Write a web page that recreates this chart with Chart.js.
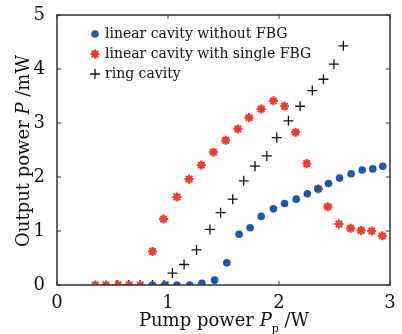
<!DOCTYPE html>
<html>
<head>
<meta charset="utf-8">
<script src="https://cdn.jsdelivr.net/npm/chart.js@4.4.1/dist/chart.umd.min.js"></script>
<style>
  html, body { margin: 0; padding: 0; background: #fff; }
  canvas { display: block; }
</style>
</head>
<body>
<canvas id="grafica" width="402" height="334"></canvas>
<script>
// datos
const xSinFBG = [0.86, 0.97, 1.08, 1.195, 1.305, 1.42, 1.53, 1.64, 1.74, 1.84, 1.95, 2.05, 2.155, 2.255, 2.35, 2.446, 2.546, 2.65, 2.75, 2.845, 2.935];
const ySinFBG = [0, 0, 0, 0, 0.03, 0.09, 0.41, 0.94, 1.06, 1.27, 1.41, 1.51, 1.59, 1.69, 1.78, 1.88, 1.98, 2.06, 2.13, 2.15, 2.2];

const xConFBG = [0.345, 0.44, 0.55, 0.65, 0.75, 0.86, 0.96, 1.08, 1.19, 1.3, 1.41, 1.52, 1.63, 1.73, 1.84, 1.95, 2.05, 2.15, 2.25, 2.356, 2.44, 2.54, 2.645, 2.74, 2.835, 2.93];
const yConFBG = [0, 0, 0, 0, 0, 0.62, 1.22, 1.63, 1.96, 2.22, 2.46, 2.68, 2.89, 3.1, 3.26, 3.41, 3.31, 2.83, 2.25, 1.78, 1.45, 1.13, 1.05, 1.01, 1.0, 0.91];

const xAnillo = [0.54, 0.645, 0.75, 0.86, 0.965, 1.04, 1.145, 1.257, 1.378, 1.474, 1.583, 1.682, 1.784, 1.89, 1.98, 2.085, 2.19, 2.3, 2.4, 2.495, 2.58];
const yAnillo = [0, 0, 0, 0, 0, 0.22, 0.38, 0.65, 1.03, 1.34, 1.59, 1.93, 2.2, 2.39, 2.73, 3.04, 3.31, 3.6, 3.81, 4.09, 4.43];

const xTicks = [0, 1, 2, 3];
const yTicks = [0, 1, 2, 3, 4, 5];
const etiquetas = ["linear cavity without FBG", "linear cavity with single FBG", "ring cavity"];

const AZUL = "#1f55b0";
const ROJO = "#f03a2e";
const NEGRO = "#111";
const FUENTE = "'DejaVu Serif', 'Liberation Serif', serif";

function pares(xs, ys) {
    return xs.map((x, i) => ({ x: x, y: ys[i] }));
}

// dibuja texto con partes en distinta fuente
function textoMixto(ctx, partes, x, y) {
    partes.forEach(p => {
        ctx.font = p[1];
        ctx.fillText(p[0], x, y + (p[2] || 0));
        x += ctx.measureText(p[0]).width;
    });
}

function anchoMixto(ctx, partes) {
    let w = 0;
    partes.forEach(p => { ctx.font = p[1]; w += ctx.measureText(p[0]).width; });
    return w;
}

// marco, marcas hacia dentro, leyenda y titulos de ejes
const marcoPlugin = {
    id: "marco",
    afterDraw(chart) {
        const ctx = chart.ctx;
        const a = chart.chartArea;
        const sx = chart.scales.x;
        const sy = chart.scales.y;
        ctx.save();
        ctx.strokeStyle = "#333";
        ctx.lineWidth = 1.5;
        ctx.strokeRect(a.left, a.top, a.right - a.left, a.bottom - a.top);
        ctx.lineWidth = 1;
        xTicks.forEach(v => {
            const px = sx.getPixelForValue(v);
            ctx.beginPath();
            ctx.moveTo(px, a.bottom); ctx.lineTo(px, a.bottom - 4);
            ctx.moveTo(px, a.top); ctx.lineTo(px, a.top + 4);
            ctx.stroke();
        });
        yTicks.forEach(v => {
            const py = sy.getPixelForValue(v);
            ctx.beginPath();
            ctx.moveTo(a.left, py); ctx.lineTo(a.left + 4, py);
            ctx.moveTo(a.right, py); ctx.lineTo(a.right - 4, py);
            ctx.stroke();
        });

        // leyenda
        ctx.textBaseline = "middle";
        chart.data.datasets.forEach((ds, i) => {
            const y = a.top + 19 + i * 20;
            const x = a.left + 38;
            ctx.fillStyle = ds.backgroundColor;
            ctx.strokeStyle = ds.borderColor;
            ctx.lineWidth = ds.borderWidth;
            Chart.helpers.drawPoint(ctx, {
                pointStyle: ds.pointStyle,
                radius: ds.pointRadius,
                borderWidth: ds.borderWidth
            }, x, y);
            ctx.fillStyle = "#111";
            ctx.font = "14px " + FUENTE;
            ctx.fillText(etiquetas[i], x + 10, y);
        });

        // titulo eje x
        ctx.textBaseline = "alphabetic";
        ctx.fillStyle = "#111";
        const tx = [
            ["Pump power ", "18px " + FUENTE],
            ["P", "italic 18px " + FUENTE],
            ["p", "11px " + FUENTE, 6],
            [" /W", "18px " + FUENTE]
        ];
        textoMixto(ctx, tx, 224 - anchoMixto(ctx, tx) / 2, 326);

        // titulo eje y
        const ty = [
            ["Output power ", "18px " + FUENTE],
            ["P", "italic 18px " + FUENTE],
            [" /mW", "18px " + FUENTE]
        ];
        const w = anchoMixto(ctx, ty);
        ctx.translate(29, 151 + w / 2);
        ctx.rotate(-Math.PI / 2);
        textoMixto(ctx, ty, 0, 0);
        ctx.restore();
    }
};

function ajustarEjes(scale, size) {
    if (scale.isHorizontal()) scale.height = size; else scale.width = size;
}

const ctx = document.getElementById("grafica").getContext("2d");
new Chart(ctx, {
    type: "scatter",
    data: {
        datasets: [
            {
                label: etiquetas[0],
                data: pares(xSinFBG, ySinFBG),
                pointStyle: "circle",
                pointRadius: 3.8,
                backgroundColor: AZUL,
                borderColor: AZUL,
                borderWidth: 0
            },
            {
                label: etiquetas[1],
                data: pares(xConFBG, yConFBG),
                pointStyle: "star",
                pointRadius: 4.5,
                backgroundColor: ROJO,
                borderColor: ROJO,
                borderWidth: 2.2
            },
            {
                label: etiquetas[2],
                data: pares(xAnillo, yAnillo),
                pointStyle: "cross",
                pointRadius: 5,
                backgroundColor: NEGRO,
                borderColor: NEGRO,
                borderWidth: 1.3
            }
        ]
    },
    options: {
        responsive: false,
        animation: false,
        layout: { padding: { top: 15, right: 12, left: 0, bottom: 0 } },
        plugins: {
            legend: { display: false },
            tooltip: { enabled: false }
        },
        scales: {
            x: {
                type: "linear",
                min: 0,
                max: 3,
                afterBuildTicks: s => { s.ticks = xTicks.map(v => ({ value: v })); },
                afterFit: s => ajustarEjes(s, 49),
                grid: { display: false },
                border: { display: false },
                ticks: { color: "#111", padding: 0, font: { family: FUENTE, size: 18 } }
            },
            y: {
                type: "linear",
                min: 0,
                max: 5,
                afterBuildTicks: s => { s.ticks = yTicks.map(v => ({ value: v })); },
                afterFit: s => ajustarEjes(s, 57),
                grid: { display: false },
                border: { display: false },
                ticks: { color: "#111", padding: 4, font: { family: FUENTE, size: 18 } }
            }
        }
    },
    plugins: [marcoPlugin]
});
</script>
</body>
</html>
